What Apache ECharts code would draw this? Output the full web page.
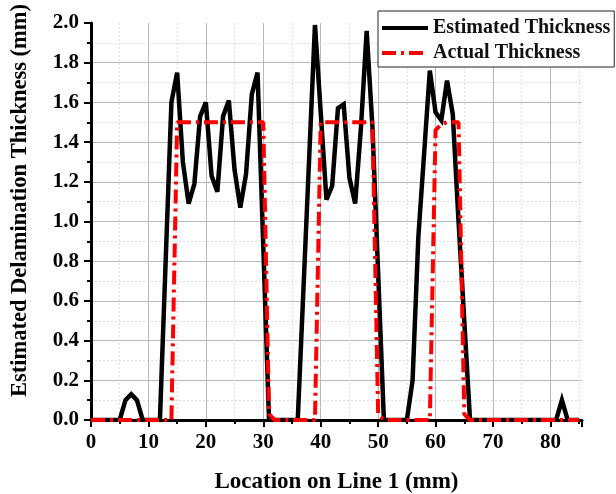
<!DOCTYPE html>
<html>
<head>
<meta charset="utf-8">
<script src="https://cdn.jsdelivr.net/npm/echarts@6/dist/echarts.min.js"></script>
<style>
  html, body { margin: 0; padding: 0; background: #fff; }
  #chart { width: 616px; height: 494px; }
</style>
</head>
<body>
<div id="chart"></div>
<script>
// Estimated delamination thickness along scan line 1 (vertices of the measured profile)
const estX = [0, 5, 6, 7, 8, 9, 12, 14, 15, 16, 17, 18, 19, 20, 21, 22, 23, 24, 25, 26, 27, 28, 29, 31,
              36, 39, 41, 42, 43, 44, 45, 46, 47, 48, 49, 51,
              55, 56, 57, 59, 60, 61, 62, 63, 64, 66, 81, 82, 83, 85];
const estY = [0, 0, 0.10, 0.13, 0.10, 0, 0, 1.60, 1.75, 1.30, 1.09, 1.19, 1.53, 1.60, 1.23, 1.15, 1.53, 1.61, 1.26, 1.07, 1.24, 1.64, 1.75, 0,
              0, 1.99, 1.11, 1.18, 1.57, 1.59, 1.22, 1.09, 1.47, 1.96, 1.48, 0,
              0, 0.20, 0.92, 1.76, 1.55, 1.51, 1.71, 1.54, 1.00, 0, 0, 0.10, 0, 0];

// Actual (designed) delamination thickness
const actX = [0, 14, 15, 30, 31, 32, 39, 40, 49, 50, 51, 59, 60, 61, 62, 64, 65, 66, 85];
const actY = [0, 0, 1.5, 1.5, 0.03, 0, 0, 1.5, 1.5, 0.03, 0, 0, 1.46, 1.49, 1.5, 1.5, 0.03, 0, 0];

const xTicks = [0, 10, 20, 30, 40, 50, 60, 70, 80];
const yTicks = [0.0, 0.2, 0.4, 0.6, 0.8, 1.0, 1.2, 1.4, 1.6, 1.8, 2.0];

const seriesNames = ['Estimated Thickness', 'Actual Thickness'];
const xTitle = 'Location on Line 1 (mm)';
const yTitle = 'Estimated Delamination Thickness (mm)';

const pairs = (xs, ys) => xs.map((x, i) => [x, ys[i]]);

const FONT = '"Liberation Serif", "Times New Roman", serif';

const chart = echarts.init(document.getElementById('chart'), null, { renderer: 'canvas' });

chart.setOption({
  animation: false,
  backgroundColor: '#ffffff',
  grid: { left: 91, right: 34, top: 23, bottom: 74, containLabel: false, outerBoundsMode: 'none' },
  legend: {
    orient: 'vertical',
    left: 378,
    top: 11,
    padding: [7, 4, 4, 2],
    itemGap: 5,
    itemWidth: 46,
    itemHeight: 14,
    borderColor: '#222',
    borderWidth: 1,
    backgroundColor: '#fff',
    // line-only keys: hide the marker glyph, keep the series stroke
    itemStyle: { opacity: 0 },
    lineStyle: { width: 4 },
    textStyle: { fontFamily: FONT, fontWeight: 'bold', fontSize: 20, color: '#111' },
    data: seriesNames
  },
  xAxis: {
    type: 'value',
    min: 0,
    max: 85.5,
    interval: 10,
    axisLine: { show: true, onZero: false, lineStyle: { color: '#000', width: 3 } },
    axisTick: { show: true, inside: false, length: 7, lineStyle: { color: '#000', width: 2 } },
    minorTick: { show: true, splitNumber: 2, length: 4, lineStyle: { color: '#000', width: 2 } },
    splitLine: { show: true, showMinLine: false, showMaxLine: false, lineStyle: { color: '#b8b8b8', width: 1 } },
    minorSplitLine: { show: true, lineStyle: { color: '#dedede', width: 1, type: [2, 2] } },
    axisLabel: {
      margin: 12,
      fontFamily: FONT, fontWeight: 'bold', fontSize: 21, color: '#000',
      showMaxLabel: false,
      formatter: v => (xTicks.indexOf(v) >= 0 ? String(v) : '')
    },
    name: xTitle,
    nameLocation: 'middle',
    nameGap: 51,
    nameTextStyle: { fontFamily: FONT, fontWeight: 'bold', fontSize: 23, color: '#000' }
  },
  yAxis: {
    type: 'value',
    min: 0,
    max: 2.0,
    interval: 0.2,
    axisLine: { show: true, onZero: false, lineStyle: { color: '#000', width: 3 } },
    axisTick: { show: true, inside: false, length: 7, lineStyle: { color: '#000', width: 2 } },
    minorTick: { show: true, splitNumber: 2, length: 4, lineStyle: { color: '#000', width: 2 } },
    splitLine: { show: true, showMinLine: false, showMaxLine: false, lineStyle: { color: '#b8b8b8', width: 1 } },
    minorSplitLine: { show: true, lineStyle: { color: '#dedede', width: 1, type: [2, 2] } },
    axisLabel: {
      margin: 12,
      fontFamily: FONT, fontWeight: 'bold', fontSize: 21, color: '#000',
      formatter: v => {
        const t = yTicks.find(k => Math.abs(k - v) < 1e-6);
        return t === undefined ? '' : t.toFixed(1);
      }
    },
    name: yTitle,
    nameLocation: 'middle',
    nameGap: 59,
    nameTextStyle: { fontFamily: FONT, fontWeight: 'bold', fontSize: 22.5, color: '#000', padding: [0, 0, 0, 42] }
  },
  series: [
    {
      name: seriesNames[0],
      type: 'line',
      data: pairs(estX, estY),
      symbol: 'none',
      z: 3,
      lineStyle: { color: '#000', width: 4.5, join: 'miter', miterLimit: 4 },
      itemStyle: { color: '#000' }
    },
    {
      name: seriesNames[1],
      type: 'line',
      data: pairs(actX, actY),
      symbol: 'none',
      z: 4,
      lineStyle: { color: '#ff0000', width: 4, type: [14, 5, 3, 5] },
      itemStyle: { color: '#ff0000' }
    }
  ]
});
</script>
</body>
</html>
